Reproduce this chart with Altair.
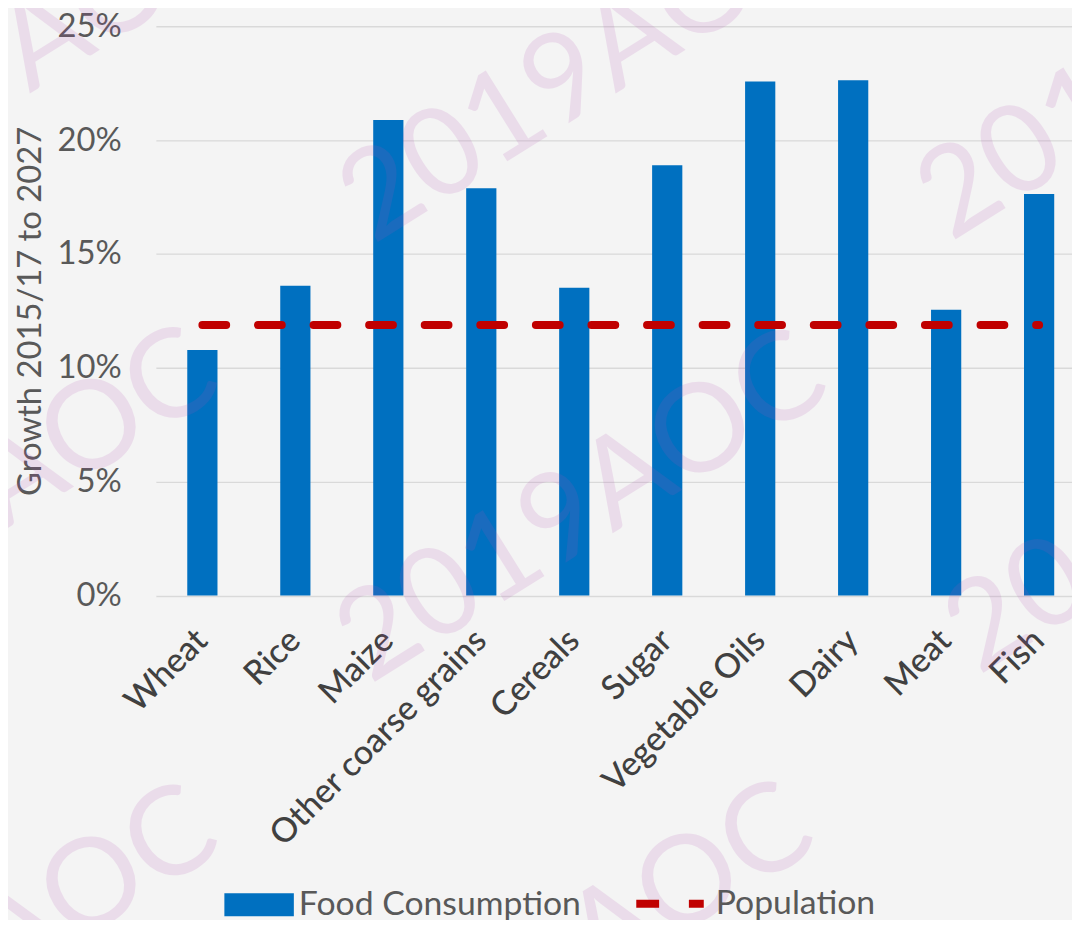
import altair as alt
import pandas as pd

# ---- data ----
categories = ["Wheat", "Rice", "Maize", "Other coarse grains", "Cereals",
              "Sugar", "Vegetable Oils", "Dairy", "Meat", "Fish"]
food_consumption = [0.1078, 0.1360, 0.2088, 0.1789, 0.1352,
                    0.1890, 0.2258, 0.2263, 0.1255, 0.1763]
population = [0.1188, 0.1188, 0.1188, 0.1188, 0.1188,
              0.1188, 0.1188, 0.1188, 0.1188, 0.1188]
y_ticks = [0, 0.05, 0.10, 0.15, 0.20, 0.25]
series_names = ["Food Consumption", "Population"]
y_title = "Growth 2015/17 to 2027"
watermark_text = "2019AOC"

FONT = "Lato"
TEXT_GREY = "#595959"
LABEL_DARK = "#404040"
BLUE = "#0070C0"
RED = "#C00000"
BG = "#F4F4F4"

PLOT_W = 915
PLOT_H = 573.5
PAD_L, PAD_T = 149, 15

df = pd.DataFrame({
    "Category": categories,
    "Growth": food_consumption,
    "Population": population,
    "food_series": series_names[0],
    "pop_series": series_names[1],
})

x_scale = alt.Scale(range=[0, 936.7], paddingInner=0.675, paddingOuter=0.3375)
x_axis = alt.Axis(
    title=None, labelAngle=315, labelAlign="right", labelBaseline="middle",
    labelFont=FONT, labelFontSize=34, labelFontWeight=500, labelColor=LABEL_DARK,
    labelPadding=40, ticks=False, domain=False, grid=False,
    labelOverlap=False, labelLimit=0,
)
y_scale = alt.Scale(domain=[0, 0.25], nice=False, zero=True)
y_axis = alt.Axis(
    title=y_title, values=y_ticks, format=".0%",
    labelFont=FONT, labelFontSize=33, labelColor=TEXT_GREY,
    labelPadding=35, ticks=False, domain=False,
    grid=True, gridColor="#D9D9D9", gridWidth=1.4,
    titleFont=FONT, titleFontSize=33, titleFontWeight="normal",
    titleColor=TEXT_GREY, titlePadding=10,
)

bars = alt.Chart(df).mark_bar(color=BLUE).encode(
    x=alt.X("Category:N", sort=categories, scale=x_scale, axis=x_axis),
    y=alt.Y("Growth:Q", scale=y_scale, axis=y_axis),
    color=alt.Color(
        "food_series:N",
        scale=alt.Scale(domain=[series_names[0]], range=[BLUE]),
        legend=alt.Legend(
            title=None, orient="none", legendX=69, legendY=850,
            symbolType="M-1,-0.33H1V0.33H-1Z", symbolSize=4900,
            symbolStrokeWidth=0, symbolOpacity=1,
            labelFont=FONT, labelFontSize=34, labelColor=TEXT_GREY,
            labelOffset=5, padding=0, labelLimit=0,
        ),
    ),
)

line = alt.Chart(df).mark_line(
    strokeWidth=8, strokeDash=[24, 32], strokeCap="round"
).encode(
    x=alt.X("Category:N", sort=categories, scale=x_scale, axis=x_axis),
    y=alt.Y("Population:Q", scale=y_scale, axis=y_axis),
    color=alt.Color(
        "pop_series:N",
        scale=alt.Scale(domain=[series_names[1]], range=[RED]),
        legend=alt.Legend(
            title=None, orient="none", legendX=480, legendY=846,
            symbolType="stroke", symbolSize=4624, symbolStrokeWidth=8,
            symbolDash=[23, 30], symbolOpacity=1,
            labelFont=FONT, labelFontSize=34, labelColor=TEXT_GREY,
            labelOffset=8, padding=0, labelLimit=0,
        ),
    ),
)

# ---- faint diagonal watermark (page coordinates of each text centre) ----
wm_centres = [(0, 66), (590, 66), (1172, 63),
              (-26, 506), (587, 509), (1200, 500),
              (-26, 967), (574, 964), (1180, 960)]
wm_df = pd.DataFrame({"t": [watermark_text]})
wm_layers = []
for cx, cy in wm_centres:
    wm_layers.append(
        alt.Chart(wm_df).mark_text(
            angle=328, font=FONT, fontSize=124, fontWeight=400,
            color="#B450B4", opacity=0.14,
            align="center", baseline="middle",
        ).encode(
            x=alt.value(cx - (8 + PAD_L)),
            y=alt.value(cy - (8 + PAD_T)),
            text="t:N",
        )
    )

chart = alt.layer(bars, line, *wm_layers).resolve_scale(
    color="independent"
).properties(
    width=PLOT_W,
    height=PLOT_H,
    padding={"left": PAD_L, "top": PAD_T, "right": 8, "bottom": 912 - PAD_T - PLOT_H},
    autosize=alt.AutoSizeParams(type="none"),
    background=BG,
).configure_view(strokeWidth=0)

chart.save("out.html", embed_options={"renderer": "svg", "actions": False})
